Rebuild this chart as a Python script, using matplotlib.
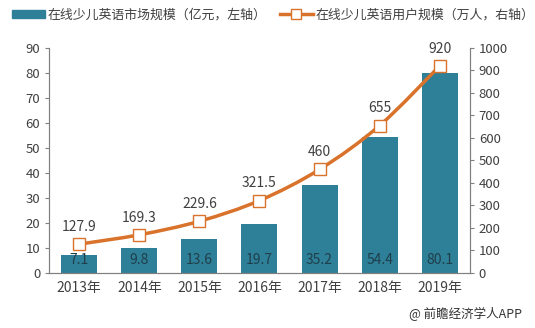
import matplotlib.pyplot as plt
import numpy as np
from matplotlib.lines import Line2D
from matplotlib.patches import Patch, PathPatch
from matplotlib.path import Path

plt.rcParams['font.family'] = ['Noto Sans CJK SC', 'DejaVu Sans']

years = ['2013年', '2014年', '2015年', '2016年', '2017年', '2018年', '2019年']
market = [7.1, 9.8, 13.6, 19.7, 35.2, 54.4, 80.1]
users = [127.9, 169.3, 229.6, 321.5, 460, 655, 920]
user_labels = ['127.9', '169.3', '229.6', '321.5', '460', '655', '920']

bar_color = '#2e7f98'
line_color = '#d9722a'
axis_color = '#808080'
text_color = '#404040'

fig = plt.figure(figsize=(5.35, 3.28), dpi=100)
ax = fig.add_axes([0.092, 0.168, 0.786, 0.686])
ax2 = ax.twinx()

x = np.arange(len(years))
ax.bar(x, market, width=0.6, color=bar_color, zorder=2)
for xi, v in zip(x, market):
    ax.text(xi, 2.2, f'{v}', ha='center', va='bottom', fontsize=10, color='#1f3f4a')

ax.set_ylim(0, 90)
ax.set_yticks(range(0, 91, 10))
ax.set_xlim(-0.5, len(years) - 0.5)
ax.set_xticks(x)
ax.set_xticklabels(years)

# smoothed line through the user counts (Catmull-Rom as cubic Bezier segments)
pts = np.column_stack([x, users]).astype(float)
verts = [tuple(pts[0])]
codes = [Path.MOVETO]
for i in range(len(pts) - 1):
    p0 = pts[i - 1] if i > 0 else pts[i]
    p1, p2 = pts[i], pts[i + 1]
    p3 = pts[i + 2] if i + 2 < len(pts) else pts[i + 1]
    c1 = p1 + (p2 - p0) / 6
    c2 = p2 - (p3 - p1) / 6
    verts += [tuple(c1), tuple(c2), tuple(p2)]
    codes += [Path.CURVE4] * 3
ax2.add_patch(PathPatch(Path(verts, codes), fill=False, edgecolor=line_color,
                        lw=2.5, zorder=3))
ax2.plot(x, users, ls='none', marker='s', ms=8, mfc='white', mec=line_color,
         mew=1, zorder=4)
for xi, v, lab in zip(x, users, user_labels):
    ax2.text(xi, v + 45, lab, ha='center', va='bottom', fontsize=10, color=text_color)
ax2.set_ylim(0, 1000)
ax2.set_yticks(range(0, 1001, 100))

for a in (ax, ax2):
    a.spines['top'].set_visible(False)
    for side in ('left', 'right', 'bottom'):
        a.spines[side].set_color(axis_color)
        a.spines[side].set_linewidth(0.8)
    a.tick_params(colors=axis_color, labelcolor=text_color, labelsize=9.5, length=3, width=0.8)
ax.tick_params(axis='x', labelsize=10, length=0, pad=6)
ax2.set_zorder(ax.get_zorder() + 1)
ax2.patch.set_visible(False)

# legend row across the top
handles = [Patch(color=bar_color),
           Line2D([0], [0], color=line_color, lw=2.5, marker='s', ms=7,
                  mfc='white', mec=line_color)]
labels = ['在线少儿英语市场规模（亿元，左轴）', '在线少儿英语用户规模（万人，右轴）']
fig.legend(handles, labels, loc='upper left', bbox_to_anchor=(0.0, 1.01), ncol=2,
           frameon=False, fontsize=9.3, handlelength=2.6, handleheight=0.6,
           columnspacing=1.0, handletextpad=0.2, labelcolor=text_color)

fig.text(0.975, 0.02, '@ 前瞻经济学人APP', ha='right', va='bottom', fontsize=9, color='#333333')

plt.savefig('out.png', dpi=100)
